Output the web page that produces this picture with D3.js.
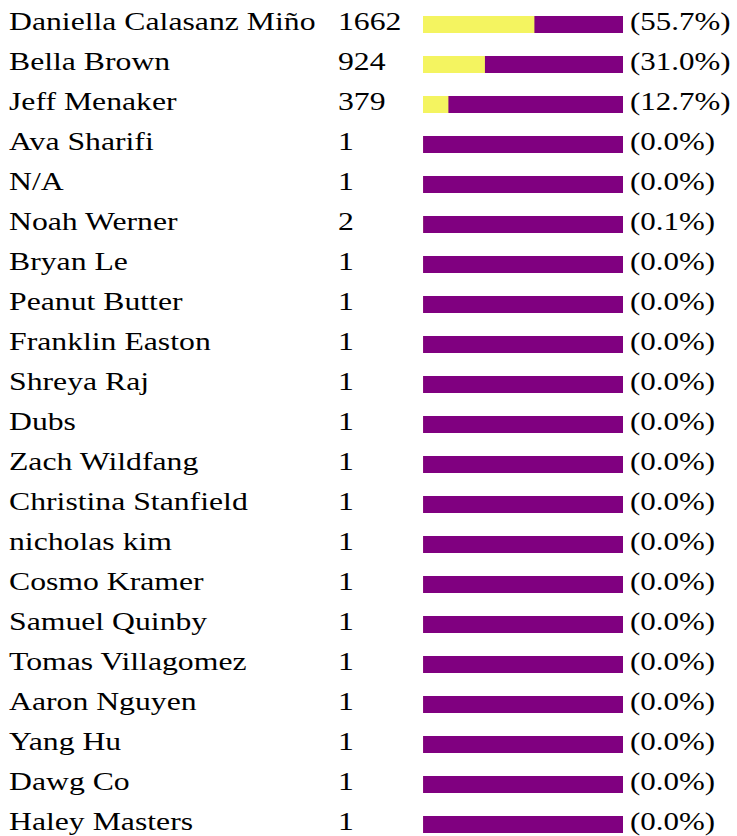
<!DOCTYPE html>
<html>
<head>
<meta charset="utf-8">
<script src="https://cdn.jsdelivr.net/npm/d3@7"></script>
<style>
  html, body { margin: 0; padding: 0; background: #fff; overflow: hidden; }
  svg { display: block; }
  text { font-family: "Liberation Serif", "Times New Roman", Times, serif; fill: #000; }
</style>
</head>
<body>
<svg id="chart" width="737" height="836"></svg>
<script>
// Vote tallies per candidate
const names = [
  "Daniella Calasanz Miño", "Bella Brown", "Jeff Menaker", "Ava Sharifi", "N/A",
  "Noah Werner", "Bryan Le", "Peanut Butter", "Franklin Easton", "Shreya Raj",
  "Dubs", "Zach Wildfang", "Christina Stanfield", "nicholas kim", "Cosmo Kramer",
  "Samuel Quinby", "Tomas Villagomez", "Aaron Nguyen", "Yang Hu", "Dawg Co",
  "Haley Masters"
];
const votes = [1662, 924, 379, 1, 1, 2, 1, 1, 1, 1, 1, 1, 1, 1, 1, 1, 1, 1, 1, 1, 1];

const total = d3.sum(votes);
const rows = names.map((n, i) => ({ name: n, votes: votes[i], share: votes[i] / total }));

const svg = d3.select("#chart");
const rowPitch = 40;
const fontSize = 26;

const y = d3.scaleBand()
  .domain(d3.range(rows.length))
  .range([4.5, 4.5 + rowPitch * rows.length])
  .paddingInner(0.575)
  .paddingOuter(0.2875);

const barX = 423, barW = 200;
const x = d3.scaleLinear().domain([0, 1]).range([0, barW]);

const g = svg.selectAll("g.row")
  .data(rows)
  .join("g")
  .attr("class", "row")
  .attr("transform", (d, i) => `translate(0,${y(i)})`);

const bh = y.bandwidth();

// full-width track, then the share filled from the left
g.append("rect")
  .attr("x", barX).attr("y", 0)
  .attr("width", x(1)).attr("height", bh)
  .attr("fill", "#800080");

g.append("rect")
  .attr("x", barX).attr("y", 0)
  .attr("width", d => x(d.share)).attr("height", bh)
  .attr("fill", "#f4f460");

function label(sel, xPos, stretch, fn) {
  sel.append("text")
    .attr("transform", `translate(${xPos},${bh / 2 + 5}) scale(${stretch},1)`)
    .attr("font-size", fontSize)
    .text(fn);
}

label(g, 9, 1.22, d => d.name);
label(g, 338, 1.22, d => d.votes);
label(g, 630, 1.19, d => `(${d3.format(".1f")(d.share * 100)}%)`);
</script>
</body>
</html>
